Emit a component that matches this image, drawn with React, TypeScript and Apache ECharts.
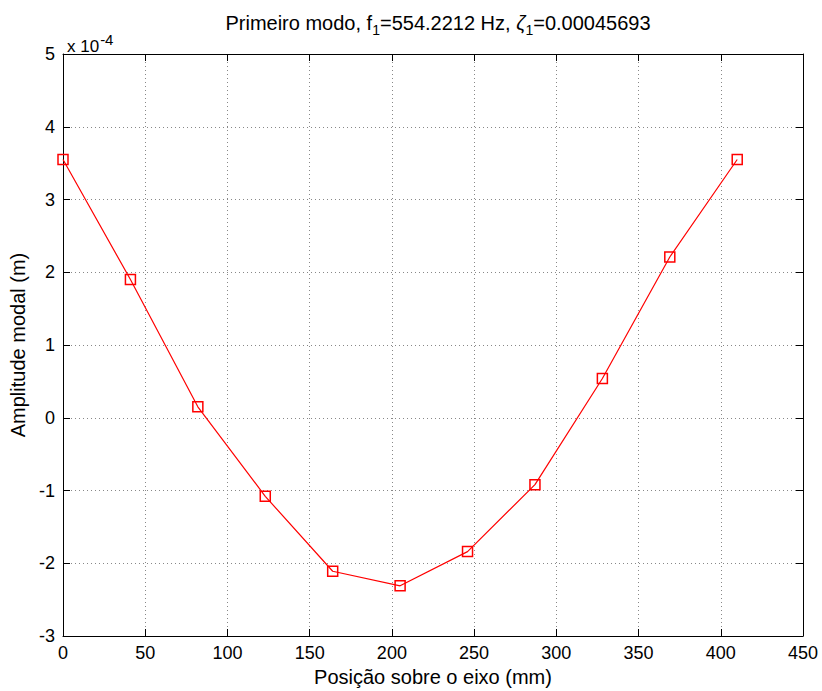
import React, { useEffect, useRef } from "react";
import * as echarts from "echarts";

const positionsMm = [0, 41, 82, 123, 164, 205, 246, 287, 328, 369, 410];
const amplitudeE4 = [3.55, 1.9, 0.15, -1.08, -2.11, -2.31, -1.84, -0.92, 0.54, 2.21, 3.55];
const xTicks = [0, 50, 100, 150, 200, 250, 300, 350, 400, 450];
const yTicks = [-3, -2, -1, 0, 1, 2, 3, 4, 5];

const FONT = "'Liberation Sans', Arial, Helvetica, sans-serif";

export default function App() {
  const ref = useRef<HTMLDivElement>(null);
  useEffect(() => {
    if (!ref.current) return;
    const chart = echarts.init(ref.current, undefined, { renderer: "svg" });
    const data = positionsMm.map((x, i) => [x, amplitudeE4[i]]);
    const axisLine = { show: true, onZero: false, lineStyle: { color: "#000", width: 1 } };
    const tick = { show: true, inside: true, length: 7, lineStyle: { color: "#000" } };
    const grid = { show: true, lineStyle: { color: "#888", type: [1, 3] as any, width: 1 } };
    chart.setOption({
      animation: false,
      backgroundColor: "#fff",
      textStyle: { fontFamily: FONT },
      title: [
        {
          text: "Primeiro modo, f{sub|1}=554.2212 Hz, {z|ζ}{sub|1}=0.00045693",
          left: 433,
          textAlign: "center",
          top: 4,
          textStyle: {
            fontFamily: FONT,
            fontSize: 20,
            fontWeight: "normal",
            color: "#000",
            rich: {
              sub: { fontSize: 14, fontFamily: FONT, padding: [14, 0, 0, 0], color: "#000" },
              z: { fontSize: 20, fontFamily: FONT, fontStyle: "italic", color: "#000" },
            },
          },
        },
        {
          text: "x 10{sup|-4}",
          left: 62,
          top: 27,
          textStyle: {
            fontFamily: FONT,
            fontSize: 17,
            fontWeight: "normal",
            color: "#000",
            rich: {
              sup: { fontSize: 15, fontFamily: FONT, padding: [0, 0, 13, 1], color: "#000" },
            },
          },
        },
      ],
      grid: { left: 63, right: 19, top: 54, bottom: 55, containLabel: false, outerBoundsMode: "none" },
      xAxis: [
        {
          type: "value",
          min: 0,
          max: 450,
          interval: 50,
          position: "bottom",
          axisLine,
          axisTick: tick,
          splitLine: grid,
          axisLabel: { color: "#000", fontSize: 18, fontFamily: FONT, margin: 8 },
          name: "Posição sobre o eixo (mm)",
          nameLocation: "middle",
          nameGap: 30,
          nameTextStyle: { color: "#000", fontSize: 20, fontFamily: FONT },
        },
        {
          type: "value",
          min: 0,
          max: 450,
          interval: 50,
          position: "top",
          axisLine,
          axisTick: tick,
          splitLine: { show: false },
          axisLabel: { show: false },
        },
      ],
      yAxis: [
        {
          type: "value",
          min: -3,
          max: 5,
          interval: 1,
          position: "left",
          axisLine,
          axisTick: tick,
          splitLine: grid,
          axisLabel: { color: "#000", fontSize: 18, fontFamily: FONT, margin: 8 },
          name: "Amplitude modal (m)",
          nameLocation: "middle",
          nameGap: 33,
          nameRotate: 90,
          nameTextStyle: { color: "#000", fontSize: 20, fontFamily: FONT },
        },
        {
          type: "value",
          min: -3,
          max: 5,
          interval: 1,
          position: "right",
          axisLine,
          axisTick: tick,
          splitLine: { show: false },
          axisLabel: { show: false },
        },
      ],
      series: [
        {
          type: "line",
          data,
          xAxisIndex: 0,
          yAxisIndex: 0,
          symbol: "rect",
          symbolSize: 10,
          color: "#ff0000",
          lineStyle: { color: "#ff0000", width: 1.2 },
          itemStyle: { color: "rgba(255,255,255,0)", borderColor: "#ff0000", borderWidth: 1.5 },
        },
      ],
    });
    return () => chart.dispose();
  }, []);
  return (
    <div
      ref={ref}
      style={{ position: "absolute", left: 0, top: 0, width: 822, height: 691 }}
    />
  );
}
